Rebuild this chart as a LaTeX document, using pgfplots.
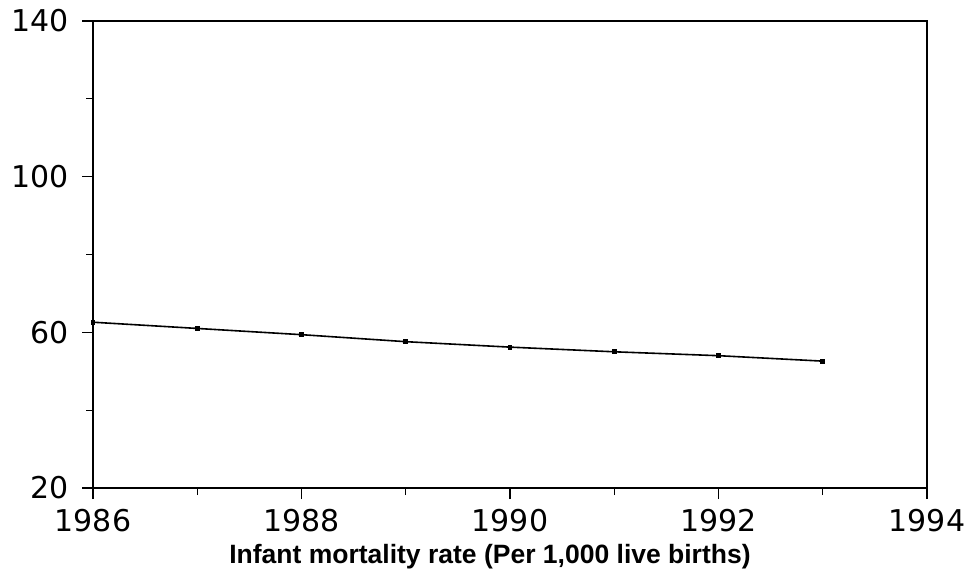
\documentclass[border=0pt]{standalone}
\usepackage{fontspec}
\setmainfont{DejaVu Sans}
\newfontfamily\labelfont{Liberation Sans}
\usepackage{pgfplots}
\pgfplotsset{compat=1.18}
\begin{document}
\begin{tikzpicture}
\begin{axis}[
  scale only axis,
  width=834pt, height=467pt,
  xmin=1986, xmax=1994, ymin=20, ymax=140,
  xtick={1986,1988,1990,1992,1994},
  minor xtick={1987,1989,1991,1993},
  ytick={20,60,100,140},
  minor ytick={40,80,120},
  tick pos=left,
  tick align=outside,
  major tick length=11pt,
  minor tick length=7pt,
  axis line style={line width=1.5pt},
  every tick/.append style={black, line width=1.2pt},
  /pgf/number format/assume math mode=true,
  /pgf/number format/1000 sep={},
  tick label style={font=\fontsize{30}{32}\selectfont},
  xticklabel style={yshift=-7pt},
  yticklabel style={xshift=-10pt},
  xlabel={\labelfont\bfseries Infant mortality rate (Per 1,000 live births)},
  xlabel style={font=\fontsize{26.5}{30}\selectfont, yshift=-5pt, xshift=-20pt},
]
\addplot[black, line width=1.6pt, mark=square*, mark size=1.6pt] coordinates {
  (1986,62.6) (1987,61.0) (1988,59.4) (1989,57.6) (1990,56.2) (1991,55.0) (1992,54.0) (1993,52.6)
};
\end{axis}
\path (-93pt,-83pt) rectangle (878pt,488pt);
\end{tikzpicture}
\end{document}
